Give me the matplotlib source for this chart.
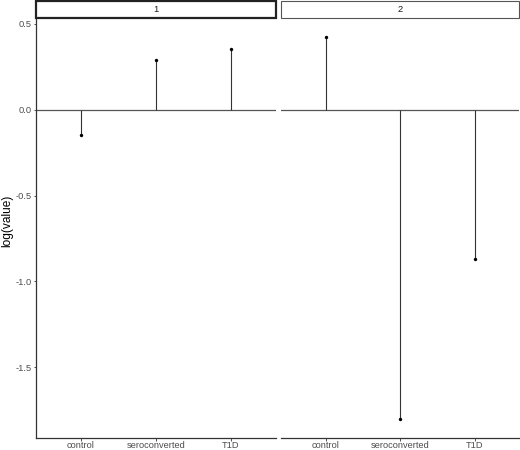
import matplotlib
matplotlib.use("Agg")
import matplotlib.pyplot as plt
from matplotlib.patches import Rectangle

plt.rcParams["font.family"] = ["Liberation Sans", "DejaVu Sans"]

categories = ["control", "seroconverted", "T1D"]
facets = ["1", "2"]
values_1 = [-0.148, 0.29, 0.354]
values_2 = [0.421, -1.80, -0.871]
yticks = [-1.5, -1.0, -0.5, 0.0, 0.5]
ytick_labels = ["-1.5", "-1.0", "-0.5", "0.0", "0.5"]

W, H = 520, 450
fig = plt.figure(figsize=(W / 100, H / 100), dpi=100)

allv = values_1 + values_2
lo, hi = min(allv), max(allv)
pad = 0.05 * (hi - lo)
ylim = (lo - pad, hi + pad)

def px(x0, y0, x1, y1):
    return [x0 / W, 1 - y1 / H, (x1 - x0) / W, (y1 - y0) / H]

panel_top, panel_bot = 18.3, 437.8
panels = [(36, 275.7), (280.8, 519.3)]
axis_col = "#333333"
tick_col = "#4d4d4d"

for i, (vals, (x0, x1)) in enumerate(zip([values_1, values_2], panels)):
    ax = fig.add_axes(px(x0, panel_top, x1, panel_bot))
    xs = list(range(1, len(categories) + 1))
    ax.set_xlim(0.4, 3.6)
    ax.set_ylim(*ylim)
    ax.axhline(0, color="#555555", lw=0.9, zorder=1)
    ax.vlines(xs, 0, vals, color="#333333", lw=0.8, zorder=2)
    ax.scatter(xs, vals, s=6, color="black", zorder=3, linewidths=0)
    ax.set_xticks(xs)
    ax.set_xticklabels(categories, fontsize=6.7, color=tick_col)
    for s in ["top", "right"]:
        ax.spines[s].set_visible(False)
    ax.spines["bottom"].set_color(axis_col)
    ax.spines["bottom"].set_linewidth(0.9)
    ax.tick_params(axis="x", length=1.8, width=0.6, color=axis_col, pad=0.8)
    if i == 0:
        ax.spines["left"].set_color(axis_col)
        ax.spines["left"].set_linewidth(0.9)
        ax.set_yticks(yticks)
        ax.set_yticklabels(ytick_labels, fontsize=6.7, color=tick_col)
        ax.tick_params(axis="y", length=1.8, width=0.6, color=axis_col, pad=1.2)
    else:
        ax.spines["left"].set_visible(False)
        ax.set_yticks([])
    # strip
    sax = fig.add_axes(px(x0, 1.2, x1, 18.3))
    sax.set_xlim(0, 1)
    sax.set_ylim(0, 1)
    sax.axis("off")
    if i == 0:
        ec, lw = "#222222", 1.6
    else:
        ec, lw = "#555555", 0.8
    sax.add_patch(Rectangle((0, 0), 1, 1, transform=sax.transAxes, facecolor="white",
                            edgecolor=ec, lw=lw, clip_on=False))
    sax.text(0.5, 0.5, facets[i], ha="center", va="center", fontsize=6.7, color="#1a1a1a")

fig.text(7.5 / W, 1 - 221 / H, "log(value)", rotation=90, ha="center", va="center",
         fontsize=8.6, color="black")

fig.savefig("out.png", dpi=100)
